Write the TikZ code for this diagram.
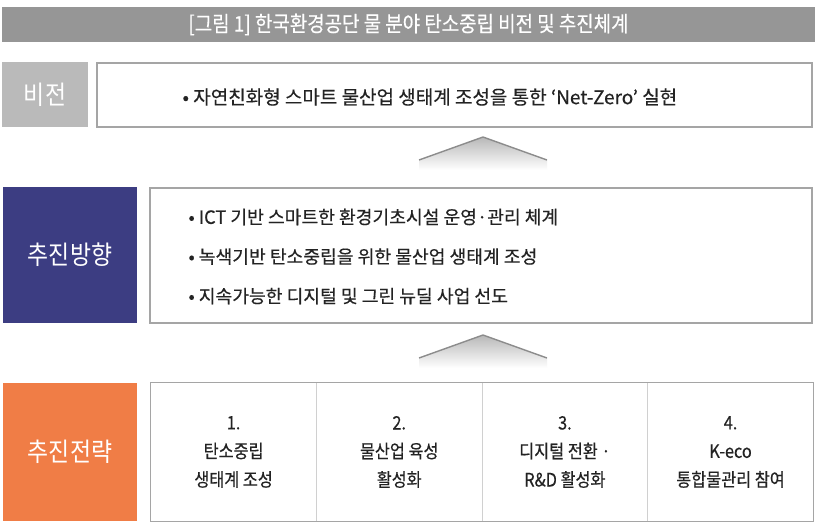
\documentclass[tikz,border=0pt]{standalone}
\usepackage{fontspec}
\setmainfont{Noto Sans CJK KR}[FakeBold=0.4]
\newfontfamily\narrowfont{Noto Sans CJK KR}[FakeStretch=0.88,FakeBold=0.4]
\newfontfamily\tagfont{Noto Sans CJK KR}[FakeStretch=0.88]
\usetikzlibrary{positioning}
\definecolor{barGray}{RGB}{150,150,150}
\definecolor{visionGray}{RGB}{186,186,186}
\definecolor{dirNavy}{RGB}{60,61,130}
\definecolor{stratOrange}{RGB}{240,125,70}
\definecolor{frameGray}{RGB}{165,165,165}
\definecolor{cellLine}{RGB}{208,208,208}
\definecolor{bodyText}{RGB}{35,35,35}
\definecolor{chevronEdge}{RGB}{140,140,140}

\begin{document}
\begin{tikzpicture}[x=1pt,y=-1pt,
    tag/.style={inner sep=0pt,text=white,font=\tagfont\fontsize{26}{30}\selectfont},
    panel/.style={draw=frameGray,line width=1.3pt,fill=white,inner sep=0pt},
    cell/.style={inner sep=0pt,minimum width=165.25pt,minimum height=138pt,align=center,
      text=bodyText,font=\narrowfont\fontsize{18.5}{28.5}\selectfont},
    bullets/.style={inner sep=0pt,anchor=west,align=left,text=bodyText,
      font=\fontsize{18.2}{39.5}\selectfont}]
  \fill[white] (0,0) rectangle (818,528);
  \useasboundingbox (0,0) rectangle (818,528);

  % title bar
  \node[fill=barGray,minimum width=813pt,minimum height=35pt,inner sep=0pt] (titlebar) at (408.5,24.5) {};
  \node[text=white,font=\narrowfont\fontsize{21.5}{24}\selectfont] (title) at (titlebar.center)
    {[그림 1] 한국환경공단 물 분야 탄소중립 비전 및 추진체계};

  % vision
  \node[tag,fill=visionGray,minimum width=86pt,minimum height=65pt] (vision) at (45,94.5) {비전};
  \node[panel,minimum width=715pt,minimum height=64pt] (visionbox) at (454.5,95) {};
  \node[bullets,font=\fontsize{19}{24}\selectfont] (visiontext) at ([xshift=86pt,yshift=-2pt]visionbox.west)
    {• 자연친화형 스마트 물산업 생태계 조성을 통한 ‘Net-Zero’ 실현};

  % direction
  \node[tag,fill=dirNavy,minimum width=134pt,minimum height=136pt] (direction) at (70,255) {추진방향};
  \node[panel,minimum width=662pt,minimum height=135pt] (dirbox) at (481,255.5) {};
  \node[bullets] (dirtext) at ([xshift=39pt,yshift=-1pt]dirbox.west)
    {• ICT 기반 스마트한 환경기초시설 운영·관리 체계\\
     • 녹색기반 탄소중립을 위한 물산업 생태계 조성\\
     • 지속가능한 디지털 및 그린 뉴딜 사업 선도};

  % strategy
  \node[tag,fill=stratOrange,minimum width=134pt,minimum height=138pt] (strategy) at (70,452) {추진전략};
  \node[cell] (cellA) at (233.6,452) {1.\\탄소중립\\생태계 조성};
  \node[cell,right=0pt of cellA] (cellB) {2.\\물산업 육성\\활성화};
  \node[cell,right=0pt of cellB] (cellC) {3.\\디지털 전환 ·\\R\&D 활성화};
  \node[cell,right=0pt of cellC] (cellD) {4.\\K-eco\\통합물관리 참여};
  \foreach \c in {cellA,cellB,cellC}
    \draw[cellLine,line width=0.9pt] (\c.north east) -- (\c.south east);
  \draw[draw=frameGray,line width=1.3pt] (cellA.north west) rectangle (cellD.south east);

  % chevrons
  \coordinate (tipA) at (483,137);
  \coordinate (tipB) at (483,335);
  \foreach \t in {tipA,tipB}{
    \shade[top color=black!28,middle color=black!23,bottom color=white]
      (\t) -- ++(-64,23) -- ++(0,10) -- ++(128,0) -- ++(0,-10) -- cycle;
    \draw[chevronEdge,line width=1.4pt] ([shift={(-64,23)}]\t) -- (\t) -- ([shift={(64,23)}]\t);
  }
\end{tikzpicture}
\end{document}
